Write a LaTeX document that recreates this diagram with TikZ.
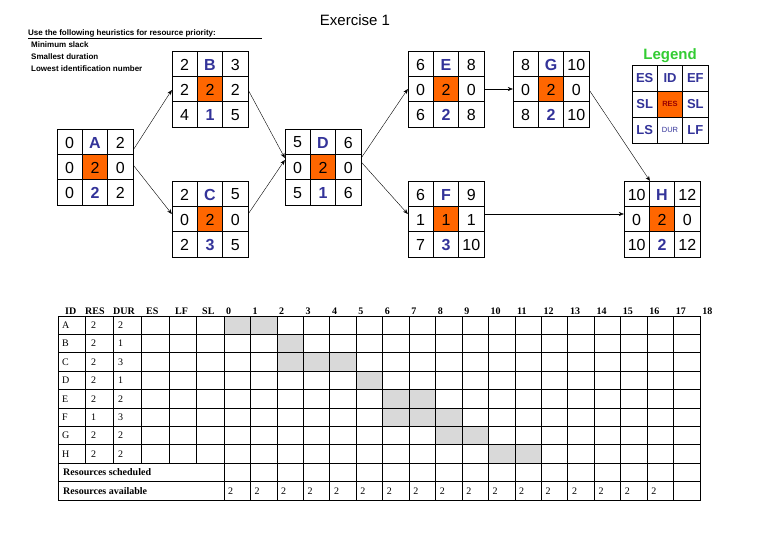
\documentclass[tikz,border=0pt]{standalone}
\usepackage{fontspec}
\setmainfont{Liberation Sans}
\newfontfamily\tms{Liberation Serif}
\usetikzlibrary{arrows.meta}
\definecolor{idblue}{HTML}{333399}
\definecolor{resor}{HTML}{FF6600}
\definecolor{leggreen}{HTML}{33CC33}
\definecolor{gantt}{HTML}{D9D9D9}
\tikzset{
  boxn/.style={minimum width=76pt,minimum height=76pt,inner sep=0pt},
  dig/.style={font=\fontsize{16}{16}\selectfont,inner sep=0pt},
  idt/.style={font=\fontsize{16}{16}\selectfont\bfseries,text=idblue,inner sep=0pt},
  link/.style={-{Stealth[length=5pt,width=4pt]},thin},
  tb/.style={font=\tms\fontsize{10}{10}\selectfont,inner sep=0pt,anchor=west},
  tbh/.style={font=\tms\fontsize{10}{10}\selectfont\bfseries,inner sep=0pt},
}
\def\toprow#1/#2\relax#3{\node[dig] at (12.67,13.5){#1};\node[idt] at (38,13.5){#3};\node[dig] at (63.33,13.5){#2};}
\def\midrow#1/#2/#3\relax{\node[dig] at (12.67,39){#1};\node[dig] at (38,39){#2};\node[dig] at (63.33,39){#3};}
\def\botrow#1/#2/#3\relax{\node[dig] at (12.67,64){#1};\node[idt] at (38,64){#2};\node[dig] at (63.33,64){#3};}
\newcommand\abox[6]{%
  \node[boxn] (#1) at (#2+38,#3+38) {};
  \begin{scope}[shift={(#2,#3)}]
    \fill[resor] (25.33,25.33) rectangle (50.67,50.67);
    \draw[thick] (0,0) rectangle (76,76);
    \draw (25.33,0)--(25.33,76) (50.67,0)--(50.67,76) (0,25.33)--(76,25.33) (0,50.67)--(76,50.67);
    \toprow#4\relax{#1}
    \midrow#5\relax
    \botrow#6\relax
  \end{scope}}
\begin{document}
\begin{tikzpicture}[x=1pt,y=-1pt]
\useasboundingbox (0,0) rectangle (773,557);
\node[font=\fontsize{15}{15}\selectfont] (title) at (355,20) {Exercise 1};
\node[anchor=west,font=\fontsize{8}{8}\selectfont\bfseries,inner sep=0pt] (heur) at (28,33) {Use the following heuristics for resource priority:};
\draw[thin] (28,38.5)--(262,38.5);
\node[anchor=west,font=\fontsize{8}{8}\selectfont\bfseries,inner sep=0pt] (h1) at (31,45) {Minimum slack};
\node[anchor=west,font=\fontsize{8}{8}\selectfont\bfseries,inner sep=0pt] (h2) at (31,57) {Smallest duration};
\node[anchor=west,font=\fontsize{8}{8}\selectfont\bfseries,inner sep=0pt] (h3) at (31,69) {Lowest identification number};

\abox{A}{57}{129}{0/2}{0/2/0}{0/2/2}
\abox{B}{172}{51}{2/3}{2/2/2}{4/1/5}
\abox{C}{172}{181}{2/5}{0/2/0}{2/3/5}
\abox{D}{285}{129}{5/6}{0/2/0}{5/1/6}
\abox{E}{408}{51}{6/8}{0/2/0}{6/2/8}
\abox{F}{408}{181}{6/9}{1/1/1}{7/3/10}
\abox{G}{513}{51}{8/10}{0/2/0}{8/2/10}
\abox{H}{624}{181}{10/12}{0/2/0}{10/2/12}

\draw[link] (A.east|-0,150) -- (B.west|-0,90);
\draw[link] (A.east|-0,165) -- (C.west|-0,214);
\draw[link] (B.east|-0,90) -- (D.west|-0,158);
\draw[link] (C.east|-0,214) -- (D.west|-0,160);
\draw[link] (D.east|-0,158) -- (E.west|-0,89);
\draw[link] (D.east|-0,162) -- (F.west|-0,214);
\draw[link] (E.east|-0,89) -- (G.west|-0,89);
\draw[link] (F.east|-0,214) -- (H.west|-0,214);
\draw[link] (G.east|-0,90) -- (650,181);

% legend
\node[font=\fontsize{15}{15}\selectfont\bfseries,text=leggreen] (leg) at (670,56) {Legend};
\begin{scope}[shift={(632,65)}]
  \fill[resor] (25.33,26) rectangle (50.67,52);
  \draw[thick] (0,0) rectangle (76,78);
  \draw (25.33,0)--(25.33,78) (50.67,0)--(50.67,78) (0,26)--(76,26) (0,52)--(76,52);
  \tikzset{lg/.style={font=\fontsize{13}{13}\selectfont\bfseries,text=idblue,inner sep=0pt}}
  \node[lg] at (12.67,13){ES};\node[lg] at (38,13){ID};\node[lg] at (63.33,13){EF};
  \node[lg] at (12.67,39){SL};\node[font=\fontsize{7.5}{7.5}\selectfont\bfseries,text=red!60!black,inner sep=0pt] at (38,39){RES};\node[lg] at (63.33,39){SL};
  \node[lg] at (12.67,65){LS};\node[font=\fontsize{7.5}{7.5}\selectfont,text=idblue,inner sep=0pt] at (38,65){DUR};\node[lg] at (63.33,65){LF};
\end{scope}

% table
\def\tw{26.45}
\def\rh{18.4}
\foreach \r/\cs in {0/{0,1},1/{2},2/{2,3,4},3/{5},4/{6,7},5/{6,7,8},6/{8,9},7/{10,11}}
  \foreach \c in \cs
    \fill[gantt] (224+\c*\tw,316+\r*\rh) rectangle (224+\c*\tw+\tw,316+\r*\rh+\rh);
\draw[thick] (58,316) rectangle (700,500);
\foreach \r in {1,...,9} \draw[thick] (58,316+\r*\rh) -- (700,316+\r*\rh);
\foreach \x in {85,113,141,169,196} \draw[thick] (\x,316) -- (\x,316+8*\rh);
\foreach \c in {0,...,17} \draw[thick] (224+\c*\tw,316) -- (224+\c*\tw,500);
\foreach \t/\x in {ID/65,RES/85,DUR/113,ES/146,LF/175,SL/202}
  \node[tbh,anchor=base west] at (\x,314) {\t};
\foreach \c in {0,...,18} \node[tbh,anchor=base west] at (226+\c*\tw,314) {\c};
\foreach \r/\id/\res/\dur in {0/A/2/2,1/B/2/1,2/C/2/3,3/D/2/1,4/E/2/2,5/F/1/3,6/G/2/2,7/H/2/2}{
  \node[tb] at (62,316+\r*\rh+\rh/2) {\id};
  \node[tb] at (91,316+\r*\rh+\rh/2) {\res};
  \node[tb] at (118,316+\r*\rh+\rh/2) {\dur};}
\node[tb,font=\tms\fontsize{10}{10}\selectfont\bfseries] (rs) at (63,316+8.5*\rh) {Resources scheduled};
\node[tb,font=\tms\fontsize{10}{10}\selectfont\bfseries] (ra) at (63,316+9.5*\rh) {Resources available};
\foreach \c in {0,...,16} \node[tb] at (228+\c*\tw,316+9.5*\rh) {2};
\end{tikzpicture}
\end{document}
